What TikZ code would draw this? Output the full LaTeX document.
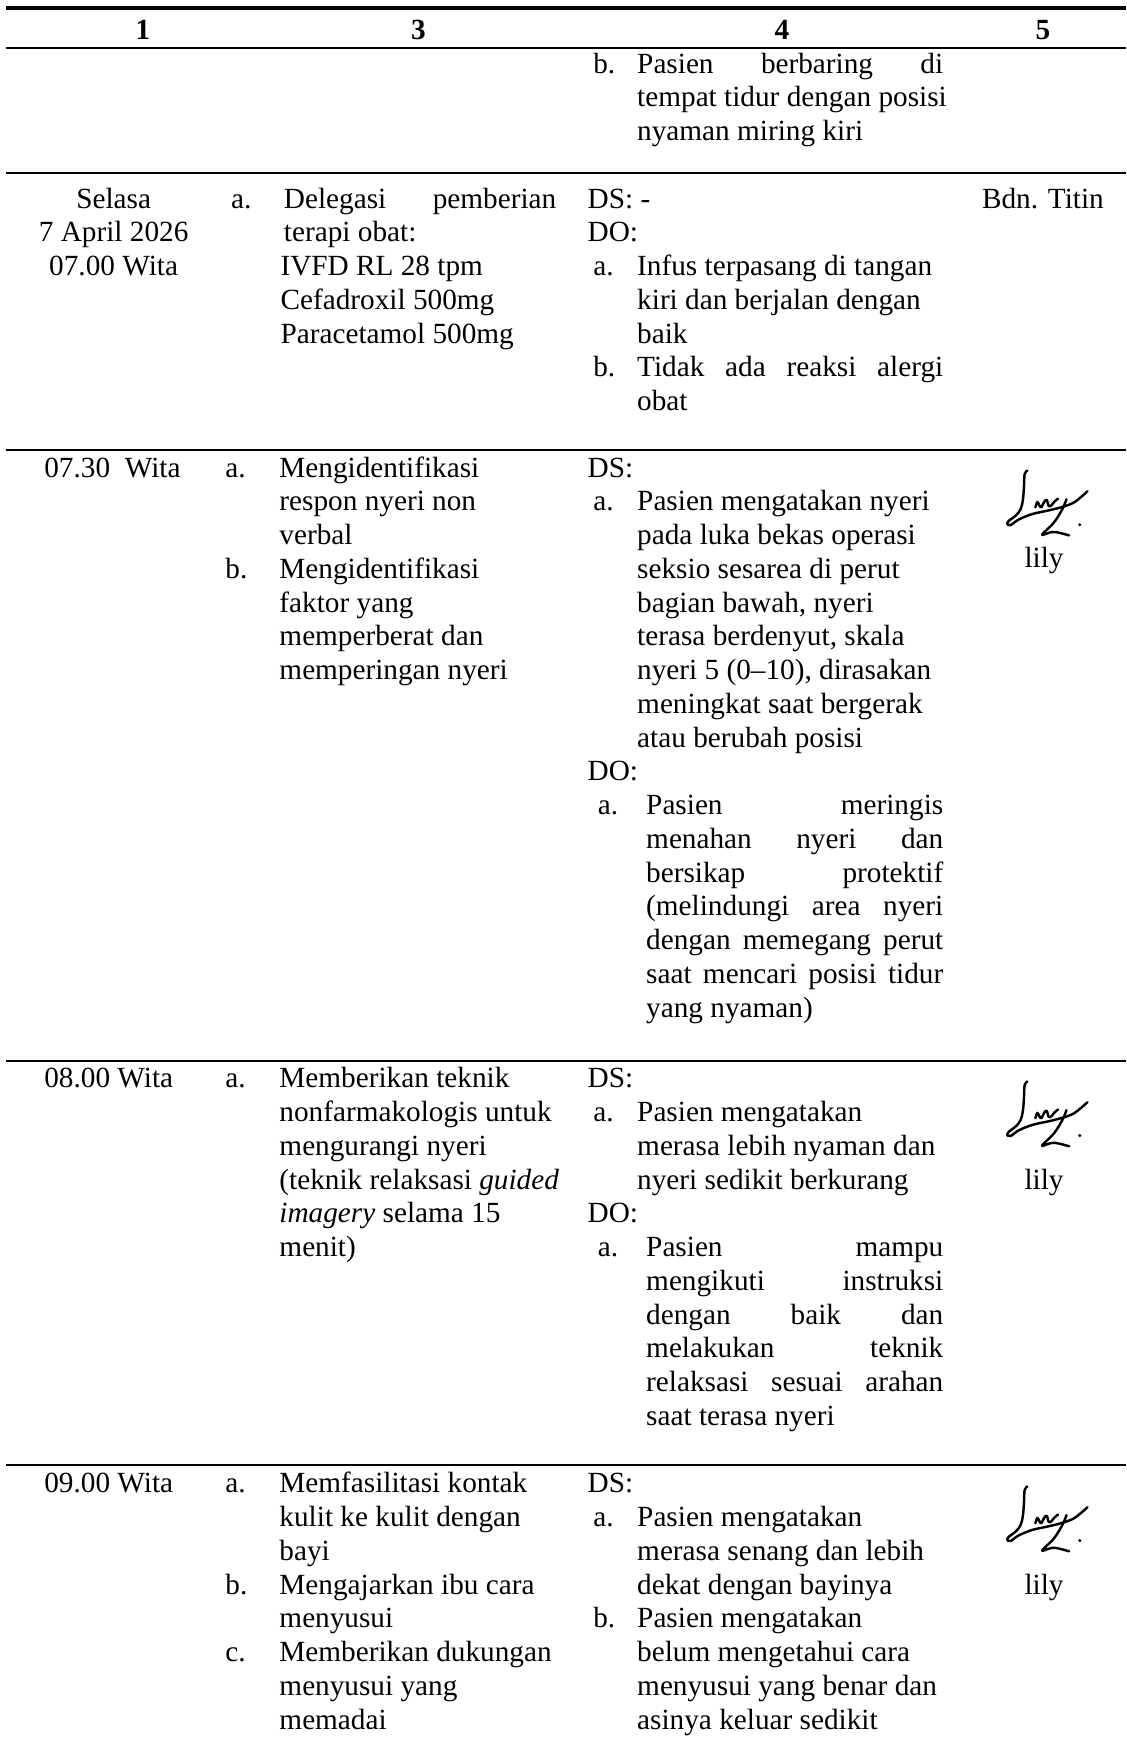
\documentclass[tikz,border=0pt]{standalone}
\usepackage{fontspec}
\setmainfont{Liberation Serif}
\newlength\unitpx
\setlength\unitpx{0.4615pt}
\newcommand{\jl}[2]{\makebox[#1\unitpx][s]{#2}}
\newcommand{\cellrows}[4]{\foreach \rowtxt [count=\ri from 0] in {#4} {\node[txt] (#3\ri) at (#1,#2+30*\ri) {\rowtxt};}}
\tikzset{
  txt/.style={anchor=base west, inner sep=0pt, font=\fontsize{12}{13.8}\selectfont},
  ctr/.style={anchor=base, inner sep=0pt, font=\fontsize{12}{13.8}\selectfont},
  hd/.style={ctr, font=\fontsize{12}{13.8}\selectfont\bfseries},
  rule/.style={line width=0.9pt},
  sig/.pic={
    \begin{scope}[x=0.137pt, y=-0.137pt, line width=1pt, line cap=round, line join=round]
    \draw plot[smooth, tension=0.6] coordinates {(-60,-100) (-68,-90) (-70,-55) (-73,-15) (-80,15) (-95,35) (-115,50) (-120,60) (-110,63) (-85,46) (-45,30) (0,20) (40,10) (80,-5) (120,-38)};
    \draw plot[smooth, tension=0.6] coordinates {(-36,10) (-30,-6) (-24,4) (-18,10) (-10,-6) (-2,-12) (4,6) (12,4) (22,-8) (32,-16)};
    \draw plot[smooth, tension=0.6] coordinates {(57,-14) (45,15) (20,55) (-10,85) (-15,93) (5,86) (25,84) (65,94)};
    \fill (97,62) circle[radius=5];
    \end{scope}
  }
}
\begin{document}
\begin{tikzpicture}[x=0.4615pt, y=-0.4615pt]
\useasboundingbox (0,0) rectangle (1001,1568);
\draw[rule, line width=1.4pt] (5,7) -- (1001,7);
\foreach \yy in {43,154,400,943,1302} \draw[rule] (5,\yy) -- (1001,\yy);

\node[hd] (h1) at (127,35) {1};
\node[hd] (h3) at (372,35) {3};
\node[hd] (h4) at (695,35) {4};
\node[hd] (h5) at (927,35) {5};

\node[txt] (r0b) at (527,65) {b.};
\cellrows{566}{65}{r0t}{\jl{272}{Pasien berbaring di}, tempat tidur dengan posisi, nyaman miring kiri}

\node[ctr] (r1d0) at (101,185) {Selasa};
\node[ctr] (r1d1) at (101,215) {7 April 2026};
\node[ctr] (r1d2) at (101,245) {07.00 Wita};
\node[txt] (r1a) at (205,185) {a.};
\cellrows{252}{185}{r1i}{\jl{242}{Delegasi pemberian}, terapi obat:}
\cellrows{249}{245}{r1o}{IVFD RL 28 tpm, Cefadroxil 500mg, Paracetamol 500mg}
\node[txt] (r1ds) at (522,185) {DS: -};
\node[txt] (r1do) at (522,215) {DO:};
\node[txt] (r1ea) at (527,245) {a.};
\cellrows{566}{245}{r1ta}{Infus terpasang di tangan, kiri dan berjalan dengan, baik}
\node[txt] (r1eb) at (527,335) {b.};
\cellrows{566}{335}{r1tb}{\jl{272}{Tidak ada reaksi alergi}, obat}
\node[ctr] (r1p) at (927,185) {Bdn. Titin};

\node[txt] (r2d) at (39,424) {07.30~~Wita};
\node[txt] (r2a) at (200,424) {a.};
\cellrows{248}{424}{r2ia}{Mengidentifikasi, respon nyeri non, verbal}
\node[txt] (r2b) at (200,514) {b.};
\cellrows{248}{514}{r2ib}{Mengidentifikasi, faktor yang, memperberat dan, memperingan nyeri}
\node[txt] (r2ds) at (522,424) {DS:};
\node[txt] (r2ea) at (527,454) {a.};
\cellrows{566}{454}{r2ta}{Pasien mengatakan nyeri, pada luka bekas operasi, seksio sesarea di perut, {bagian bawah, nyeri}, {terasa berdenyut, skala}, {nyeri 5 (0–10), dirasakan}, meningkat saat bergerak, atau berubah posisi}
\node[txt] (r2do) at (522,694) {DO:};
\node[txt] (r2eb) at (531,724) {a.};
\cellrows{574}{724}{r2tb}{\jl{264}{Pasien meringis}, \jl{264}{menahan nyeri dan}, \jl{264}{bersikap protektif}, \jl{264}{(melindungi area nyeri}, \jl{264}{dengan memegang perut}, \jl{264}{saat mencari posisi tidur}, yang nyaman)}
\pic (r2s) at (931,448) {sig};
\node[ctr] (r2p) at (928,504) {lily};

\node[txt] (r3d) at (39,967) {08.00 Wita};
\node[txt] (r3a) at (200,967) {a.};
\cellrows{248}{967}{r3i}{Memberikan teknik, nonfarmakologis untuk, mengurangi nyeri, {(teknik relaksasi \textit{guided}}, \textit{imagery} selama 15, menit)}
\node[txt] (r3ds) at (522,967) {DS:};
\node[txt] (r3ea) at (527,997) {a.};
\cellrows{566}{997}{r3ta}{Pasien mengatakan, merasa lebih nyaman dan, nyeri sedikit berkurang}
\node[txt] (r3do) at (522,1087) {DO:};
\node[txt] (r3eb) at (531,1117) {a.};
\cellrows{574}{1117}{r3tb}{\jl{264}{Pasien mampu}, \jl{264}{mengikuti instruksi}, \jl{264}{dengan baik dan}, \jl{264}{melakukan teknik}, \jl{264}{relaksasi sesuai arahan}, saat terasa nyeri}
\pic (r3s) at (931,991) {sig};
\node[ctr] (r3p) at (928,1057) {lily};

\node[txt] (r4d) at (39,1327) {09.00 Wita};
\node[txt] (r4a) at (200,1327) {a.};
\cellrows{248}{1327}{r4ia}{Memfasilitasi kontak, kulit ke kulit dengan, bayi}
\node[txt] (r4b) at (200,1417) {b.};
\cellrows{248}{1417}{r4ib}{Mengajarkan ibu cara, menyusui}
\node[txt] (r4c) at (200,1477) {c.};
\cellrows{248}{1477}{r4ic}{Memberikan dukungan, menyusui yang, memadai}
\node[txt] (r4ds) at (522,1327) {DS:};
\node[txt] (r4ea) at (527,1357) {a.};
\cellrows{566}{1357}{r4ta}{Pasien mengatakan, merasa senang dan lebih, dekat dengan bayinya}
\node[txt] (r4eb) at (527,1447) {b.};
\cellrows{566}{1447}{r4tb}{Pasien mengatakan, belum mengetahui cara, menyusui yang benar dan, asinya keluar sedikit}
\pic (r4s) at (931,1351) {sig};
\node[ctr] (r4p) at (928,1417) {lily};
\end{tikzpicture}
\end{document}
